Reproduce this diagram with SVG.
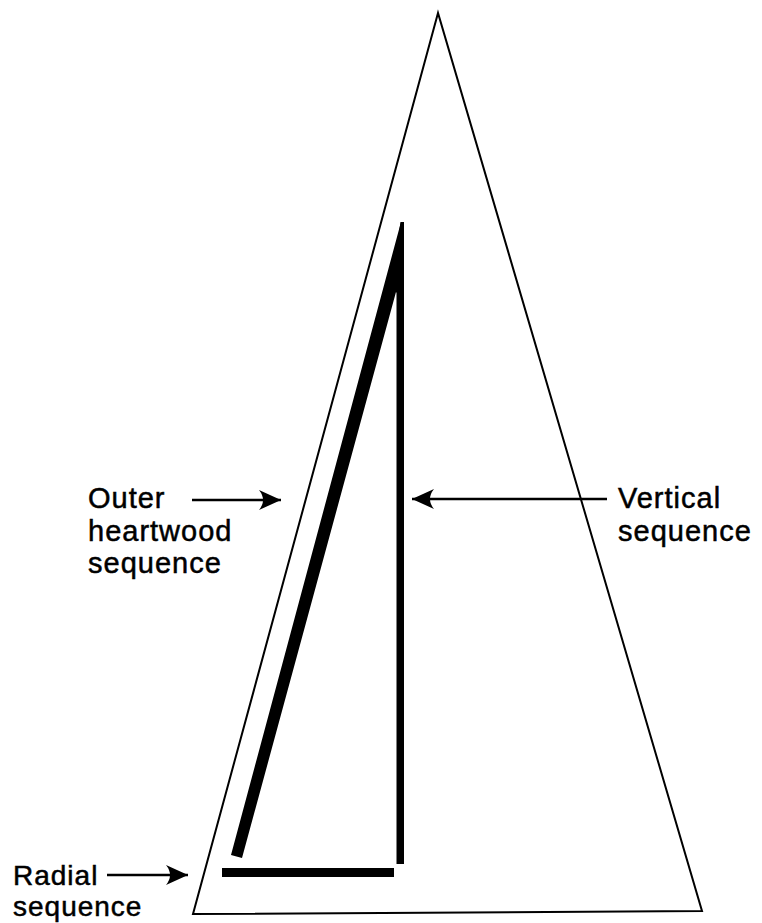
<svg xmlns="http://www.w3.org/2000/svg" width="762" height="923" viewBox="0 0 762 923">
<style>
text{font-family:"Liberation Sans",Arial,sans-serif;font-size:29px;letter-spacing:1px;fill:#000;stroke:#000;stroke-width:0.5}
#label-radial text{font-size:28px}
.conn{stroke:#000;stroke-width:2.4;fill:none}
</style>
<defs>
<marker id="ah" markerUnits="userSpaceOnUse" markerWidth="26" markerHeight="22" refX="23" refY="11" orient="auto">
<path d="M23,11 L1,1 Q9,11 1,21 Z" fill="#000"/>
</marker>
</defs>
<rect width="762" height="923" fill="#fff"/>
<g id="tree">
<path d="M438,13 L193,914 L702,911 Z" fill="none" stroke="#000" stroke-width="2"/>
</g>
<g id="outer-heartwood-bar">
<path d="M401,222 L404,222 L404,300 L396,292 L242,858 L231,855 Z" fill="#000"/>
</g>
<g id="vertical-bar">
<path d="M400.5,222 L404,222 L404,864 L396.5,864 L396.5,250 Z" fill="#000"/>
</g>
<g id="radial-bar">
<rect x="222" y="868" width="172" height="9" fill="#000"/>
</g>
<g id="connectors">
<line class="conn" x1="192" y1="500" x2="281" y2="500" marker-end="url(#ah)"/>
<line class="conn" x1="607" y1="499" x2="412" y2="499" marker-end="url(#ah)"/>
<line class="conn" x1="107" y1="875" x2="188" y2="875" marker-end="url(#ah)"/>
</g>
<g id="label-outer">
<text x="88" y="508">Outer</text>
<text x="88" y="541">heartwood</text>
<text x="88" y="573">sequence</text>
</g>
<g id="label-vertical">
<text x="618" y="508">Vertical</text>
<text x="618" y="541">sequence</text>
</g>
<g id="label-radial">
<text x="13" y="885">Radial</text>
<text x="13" y="916">sequence</text>
</g>
</svg>
